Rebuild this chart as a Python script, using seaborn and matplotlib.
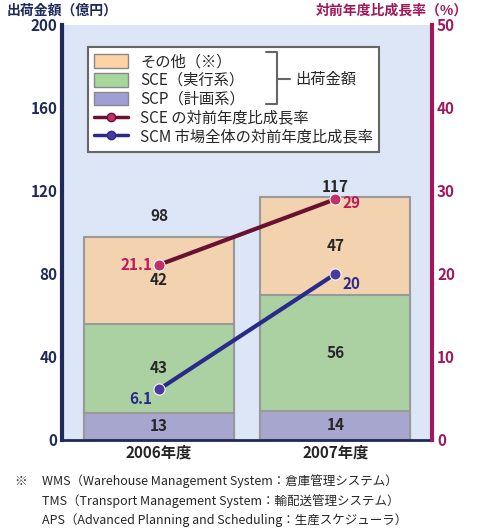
import numpy as np
import pandas as pd
import matplotlib
matplotlib.use('Agg')
import matplotlib.pyplot as plt
import seaborn as sns
from matplotlib.patches import Patch
from matplotlib.lines import Line2D

sns.set_theme(style='white')
plt.rcParams['font.family'] = ['Noto Sans CJK JP', 'DejaVu Sans']

years = ['2006年度', '2007年度']
scp = [13, 14]
sce = [43, 56]
other = [42, 47]
totals = [98, 117]
sce_growth = [21.1, 29]
scm_growth = [6.1, 20]

c_scp = '#9f9fd6'
c_sce = '#a6d89c'
c_other = '#fdd3a4'
c_navy = '#1e2a5a'
c_red = '#a0185a'
c_line1 = '#6a1030'
c_line2 = '#2a2a8a'

df = pd.DataFrame({'year': years, 'SCP': scp, 'SCE': sce, 'other': other})

fig = plt.figure(figsize=(4.9, 5.3), dpi=100)
ax = fig.add_axes([0.127, 0.17, 0.755, 0.783])
ax.set_facecolor('#dce6f6')

bot2 = np.array(scp) + np.array(sce)
sns.barplot(data=df, x='year', y=[s + e + o for s, e, o in zip(scp, sce, other)], color=c_other,
            width=0.85, edgecolor='#999999', linewidth=1.5, ax=ax)
sns.barplot(data=df, x='year', y=list(bot2), color=c_sce, width=0.85,
            edgecolor='#999999', linewidth=1.5, ax=ax)
sns.barplot(data=df, x='year', y='SCP', color=c_scp, width=0.85,
            edgecolor='#999999', linewidth=1.5, ax=ax)

for i in range(2):
    ax.text(i, scp[i] / 2, str(scp[i]), ha='center', va='center', fontsize=11, fontweight='bold')
    ax.text(i, scp[i] + sce[i] / 2, str(sce[i]), ha='center', va='center', fontsize=11, fontweight='bold')
    ax.text(i, bot2[i] + other[i] / 2, str(other[i]), ha='center', va='center', fontsize=11, fontweight='bold')
ax.text(0, totals[0] + 10, str(totals[0]), ha='center', va='center', fontsize=11, fontweight='bold')
ax.text(1, totals[1] + 5, str(totals[1]), ha='center', va='center', fontsize=11, fontweight='bold')

ax.set_ylim(0, 200)
ax.set_xlim(-0.55, 1.55)
ax.set_yticks(range(0, 201, 40))
ax.tick_params(axis='y', labelsize=11, colors=c_navy, length=0)
for t in ax.get_yticklabels():
    t.set_fontweight('bold')
ax.tick_params(axis='x', labelsize=11, length=0)
for t in ax.get_xticklabels():
    t.set_fontweight('bold')
ax.set_xlabel('')
ax.set_ylabel('')
for s in ['top', 'right']:
    ax.spines[s].set_visible(False)
ax.spines['left'].set_color(c_navy)
ax.spines['left'].set_linewidth(3)
ax.spines['bottom'].set_color(c_navy)
ax.spines['bottom'].set_linewidth(2)

ax2 = ax.twinx()
ax2.set_ylim(0, 50)
ax2.set_yticks(range(0, 51, 10))
ax2.tick_params(axis='y', labelsize=11, colors=c_red, length=0)
for t in ax2.get_yticklabels():
    t.set_fontweight('bold')
for s in ['top', 'left', 'bottom']:
    ax2.spines[s].set_visible(False)
ax2.spines['right'].set_color(c_red)
ax2.spines['right'].set_linewidth(3)

sns.lineplot(x=[0, 1], y=sce_growth, color=c_line1, lw=3, marker='o', markersize=8,
             markerfacecolor='#c0306a', markeredgecolor='white', ax=ax2)
sns.lineplot(x=[0, 1], y=scm_growth, color=c_line2, lw=3, marker='o', markersize=8,
             markerfacecolor='#4a3aa0', markeredgecolor='white', ax=ax2)
ax2.text(-0.04, sce_growth[0], '21.1', ha='right', va='center', color='#c0185a', fontsize=11, fontweight='bold')
ax2.text(1.04, sce_growth[1] - 0.4, '29', ha='left', va='center', color='#c0185a', fontsize=11, fontweight='bold')
ax2.text(-0.04, scm_growth[0] - 1.2, '6.1', ha='right', va='center', color=c_line2, fontsize=11, fontweight='bold')
ax2.text(1.04, scm_growth[1] - 1.2, '20', ha='left', va='center', color=c_line2, fontsize=11, fontweight='bold')

handles = [Patch(facecolor=c_other, edgecolor='#888888', label='その他（※）'),
           Patch(facecolor=c_sce, edgecolor='#888888', label='SCE（実行系）'),
           Patch(facecolor=c_scp, edgecolor='#888888', label='SCP（計画系）'),
           Line2D([0], [0], color=c_line1, lw=2.5, marker='o', markerfacecolor='#c0306a', label='SCE の対前年度比成長率'),
           Line2D([0], [0], color=c_line2, lw=2.5, marker='o', markerfacecolor='#4a3aa0', label='SCM 市場全体の対前年度比成長率')]
leg = ax2.legend(handles=handles, loc='upper left', bbox_to_anchor=(0.05, 0.965), fontsize=11,
                 frameon=True, fancybox=False, edgecolor='#666666', handlelength=2.2, handleheight=1.0,
                 labelspacing=0.12, borderpad=0.4, framealpha=1)
leg.get_frame().set_linewidth(1.5)
ax2.text(0.63, 0.87, '出荷金額', transform=ax2.transAxes, fontsize=11, va='center', zorder=10)
ax2.plot([0.55, 0.58, 0.58, 0.55], [0.935, 0.935, 0.81, 0.81], transform=ax2.transAxes,
         color='#666666', lw=1.5, zorder=10)
ax2.plot([0.58, 0.615], [0.87, 0.87], transform=ax2.transAxes, color='#666666', lw=1.5, zorder=10)

fig.text(0.127, 0.972, '出荷金額（億円）', fontsize=10, fontweight='bold', color=c_navy, ha='center')
fig.text(0.8, 0.972, '対前年度比成長率（%）', fontsize=10, fontweight='bold', color=c_red, ha='center')

fig.text(0.03, 0.085, '※', fontsize=9)
fig.text(0.085, 0.085, 'WMS（Warehouse Management System：倉庫管理システム）', fontsize=9)
fig.text(0.085, 0.048, 'TMS（Transport Management System：輸配送管理システム）', fontsize=9)
fig.text(0.085, 0.011, 'APS（Advanced Planning and Scheduling：生産スケジューラ）', fontsize=9)

fig.savefig('out.png', dpi=100)
